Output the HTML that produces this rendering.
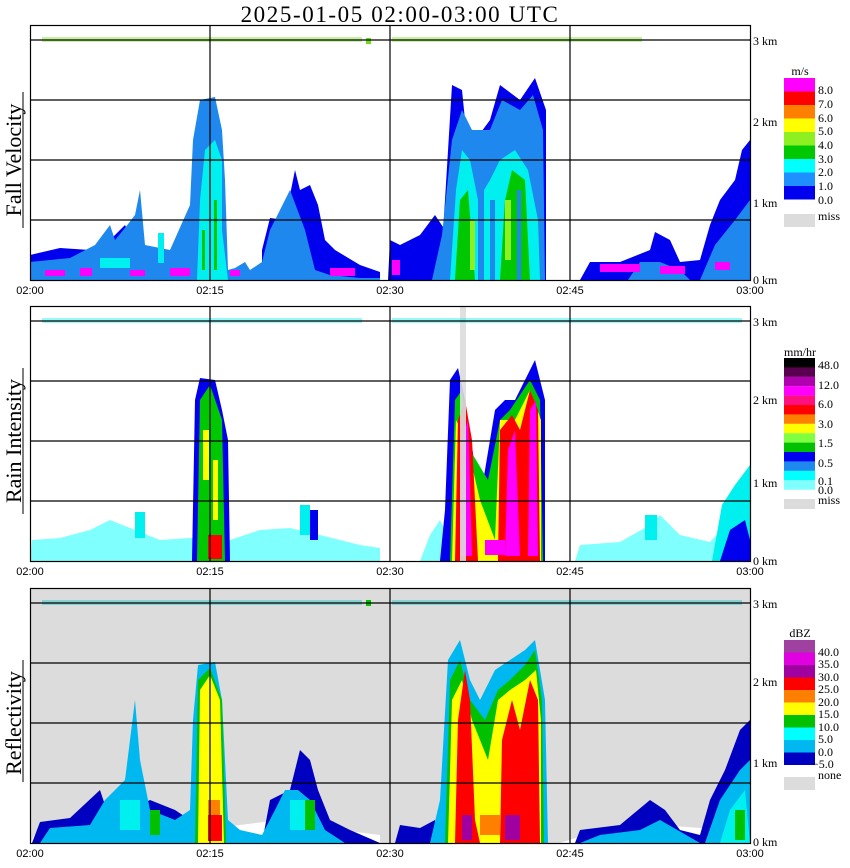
<!DOCTYPE html>
<html><head><meta charset="utf-8"><style>
body{margin:0;background:#fff}
svg{display:block}
text{font-family:"Liberation Serif",serif;fill:#000}
.t{font-family:"Liberation Sans",sans-serif;font-size:11px}
.k{font-size:12px}
.lg{font-size:12px}
</style></head><body>
<svg width="850" height="868" viewBox="0 0 850 868" xmlns="http://www.w3.org/2000/svg">
<text x="400" y="22" font-size="23" text-anchor="middle" letter-spacing="1.6">2025-01-05  02:00-03:00 UTC</text>

<!-- Panel 1 Fall velocity -->
<g>
<rect x="30" y="25" width="720" height="255" fill="#fff"/>
<g fill="#0000ee">
<polygon points="30,255 60,248 90,250 110,240 125,225 140,255 170,258 185,250 200,255 200,280 30,280"/>
<polygon points="262,250 270,218 285,220 295,170 300,190 310,185 318,205 325,240 335,250 360,265 380,272 380,280 262,280"/>
<polygon points="388,280 390,240 400,245 420,235 435,215 445,230 445,280"/>
<polygon points="580,280 590,262 620,262 650,250 655,232 670,240 680,262 700,260 710,225 720,200 735,180 742,150 750,140 750,280"/>
<polygon points="440,280 445,200 452,85 462,90 468,150 490,120 500,85 520,100 535,78 546,110 546,280"/>
</g>
<g fill="#1e88ee">
<polygon points="30,262 70,258 95,245 110,225 115,240 125,228 135,215 140,190 145,245 170,250 190,205 193,140 200,100 215,97 222,130 225,180 228,270 235,268 245,262 250,270 262,262 270,230 290,190 305,230 315,270 330,275 360,278 380,278 380,280 30,280"/>
<polygon points="432,280 442,235 452,140 462,110 472,130 490,130 502,100 520,110 533,95 543,130 545,280"/>
<polygon points="700,280 715,245 735,220 750,200 750,280"/>
<polygon points="628,280 640,262 660,262 680,270 690,280"/>
</g>
<g fill="#00f0f0">
<polygon points="197,280 200,200 205,150 215,140 222,160 222,230 228,280"/>
<polygon points="450,280 456,190 462,150 470,160 478,200 490,180 500,160 515,150 528,170 538,220 540,280"/>
<rect x="100" y="258" width="30" height="10"/>
<rect x="158" y="233" width="6" height="30"/>
</g>
<g fill="#00c800">
<polygon points="455,280 460,200 468,190 475,280"/>
<polygon points="500,280 505,200 512,170 525,180 530,280"/>
<rect x="214" y="200" width="3" height="70"/>
<rect x="202" y="230" width="3" height="40"/>
</g>
<g fill="#1e88ee"><rect x="478" y="180" width="6" height="100"/><rect x="490" y="200" width="5" height="80"/><rect x="517" y="190" width="4" height="90"/></g>
<g fill="#8ef020">
<rect x="505" y="200" width="6" height="60"/><rect x="470" y="220" width="5" height="50"/>
</g>
<g fill="#ff00ff">
<rect x="45" y="270" width="20" height="6"/><rect x="80" y="268" width="12" height="8"/><rect x="130" y="270" width="15" height="6"/><rect x="170" y="268" width="20" height="8"/><rect x="230" y="270" width="10" height="6"/><rect x="330" y="268" width="25" height="8"/><rect x="392" y="260" width="8" height="15"/><rect x="600" y="264" width="40" height="8"/><rect x="660" y="266" width="25" height="8"/><rect x="715" y="262" width="15" height="8"/>
</g>
<g fill="#6ede10"><rect x="42" y="37" width="320" height="5" opacity="0.4"/><rect x="392" y="37" width="250" height="5" opacity="0.4"/><rect x="366" y="38" width="5" height="6"/></g>
<g stroke="#000" stroke-width="1.2" fill="none">
<line x1="30" y1="40" x2="750" y2="40"/><line x1="30" y1="100" x2="750" y2="100"/><line x1="30" y1="160" x2="750" y2="160"/><line x1="30" y1="220" x2="750" y2="220"/>
<line x1="210" y1="25" x2="210" y2="280"/><line x1="390" y1="25" x2="390" y2="280"/><line x1="570" y1="25" x2="570" y2="280"/>
<rect x="30.5" y="25.5" width="720" height="255"/>
</g>
<text x="14" y="160" font-size="22" transform="rotate(-90 14 160)" text-anchor="middle" dy="7">Fall Velocity</text>
<line x1="23" y1="92" x2="23" y2="228" stroke="#000"/>
<text class="k" x="753" y="45">3 km</text><text class="k" x="753" y="126">2 km</text><text class="k" x="753" y="207">1 km</text><text class="k" x="753" y="284">0 km</text>
<text class="t" x="30" y="294" text-anchor="middle">02:00</text><text class="t" x="210" y="294" text-anchor="middle">02:15</text><text class="t" x="390" y="294" text-anchor="middle">02:30</text><text class="t" x="570" y="294" text-anchor="middle">02:45</text><text class="t" x="750" y="294" text-anchor="middle">03:00</text>
<text class="lg" x="800" y="75" text-anchor="middle">m/s</text>
<rect x="784" y="78" width="31" height="13.5" fill="#ff00ff"/><rect x="784" y="91.5" width="31" height="13.5" fill="#ff0000"/><rect x="784" y="105" width="31" height="13.5" fill="#ff8000"/><rect x="784" y="118.5" width="31" height="13.5" fill="#ffff00"/><rect x="784" y="132" width="31" height="13.5" fill="#8ef020"/><rect x="784" y="145.5" width="31" height="13.5" fill="#00c800"/><rect x="784" y="159" width="31" height="13.5" fill="#00ffff"/><rect x="784" y="172.5" width="31" height="13.5" fill="#1e90ff"/><rect x="784" y="186" width="31" height="13.5" fill="#0000ee"/>
<rect x="784" y="214" width="31" height="13" fill="#dcdcdc"/>
<text class="lg" x="818" y="94">8.0</text><text class="lg" x="818" y="108">7.0</text><text class="lg" x="818" y="122">6.0</text><text class="lg" x="818" y="135">5.0</text><text class="lg" x="818" y="149">4.0</text><text class="lg" x="818" y="163">3.0</text><text class="lg" x="818" y="176">2.0</text><text class="lg" x="818" y="190">1.0</text><text class="lg" x="818" y="204">0.0</text><text class="lg" x="818" y="220">miss</text>
</g>

<!-- Panel 2 Rain intensity -->
<g>
<g fill="#80ffff">
<polygon points="30,561 32,540 60,538 90,530 110,520 130,528 160,540 190,538 230,540 260,530 290,528 320,535 360,545 380,548 380,561"/>
<polygon points="420,561 430,535 440,520 460,561"/>
<polygon points="575,561 580,545 620,542 650,525 660,515 680,535 710,542 730,520 750,500 750,561"/>
</g>
<g fill="#00f0f0">
<rect x="135" y="512" width="10" height="26"/><rect x="300" y="505" width="10" height="30"/><rect x="645" y="515" width="12" height="25"/>
<polygon points="440,561 450,520 455,561"/>
<polygon points="712,561 722,505 735,485 750,465 750,561"/>
</g>
<g fill="#0000ee">
<polygon points="192,561 195,400 200,378 215,380 222,410 228,440 230,561"/>
<polygon points="440,561 445,510 450,380 458,368 465,400 480,500 495,410 505,400 515,400 525,380 535,360 545,400 545,561"/>
<polygon points="720,561 730,530 745,520 750,540 750,561"/>
<rect x="310" y="510" width="8" height="30"/>
</g>
<g fill="#00c800">
<polygon points="197,561 200,400 210,385 222,420 225,561"/>
<polygon points="450,561 455,400 462,390 470,450 488,480 500,420 510,410 530,380 540,400 543,561"/>
</g>
<g fill="#ffff00">
<rect x="203" y="430" width="6" height="50"/><rect x="213" y="460" width="5" height="60"/>
<polygon points="452,561 456,420 466,440 480,500 495,540 500,420 515,420 530,390 541,420 541,561"/>
</g>
<g fill="#ff0000">
<polygon points="455,561 458,420 465,400 472,440 478,561"/>
<polygon points="498,561 500,430 512,415 520,430 530,390 538,410 540,561"/>
<rect x="208" y="535" width="14" height="24"/>
</g>
<g fill="#ff00ff">
<polygon points="460,556 462,440 468,420 472,556"/>
<polygon points="505,556 508,450 515,430 520,556"/>
<polygon points="528,556 530,410 536,400 538,556"/>
<rect x="485" y="540" width="20" height="15"/>
</g>
<rect x="460" y="306" width="6" height="255" fill="#dcdcdc" opacity="0.9"/>
<g fill="#00f0f0"><rect x="42" y="318" width="320" height="5" opacity="0.4"/><rect x="392" y="318" width="350" height="5" opacity="0.4"/></g>
<g stroke="#000" stroke-width="1.2" fill="none">
<line x1="30" y1="321" x2="750" y2="321"/><line x1="30" y1="381" x2="750" y2="381"/><line x1="30" y1="441" x2="750" y2="441"/><line x1="30" y1="501" x2="750" y2="501"/>
<line x1="210" y1="306" x2="210" y2="561"/><line x1="390" y1="306" x2="390" y2="561"/><line x1="570" y1="306" x2="570" y2="561"/>
<rect x="30.5" y="306.5" width="720" height="255"/>
</g>
<text x="14" y="441" font-size="22" transform="rotate(-90 14 441)" text-anchor="middle" dy="7">Rain Intensity</text>
<line x1="23" y1="368" x2="23" y2="514" stroke="#000"/>
<text class="k" x="753" y="326">3 km</text><text class="k" x="753" y="404">2 km</text><text class="k" x="753" y="487">1 km</text><text class="k" x="753" y="565">0 km</text>
<text class="t" x="30" y="575" text-anchor="middle">02:00</text><text class="t" x="210" y="575" text-anchor="middle">02:15</text><text class="t" x="390" y="575" text-anchor="middle">02:30</text><text class="t" x="570" y="575" text-anchor="middle">02:45</text><text class="t" x="750" y="575" text-anchor="middle">03:00</text>
<text class="lg" x="800" y="356" text-anchor="middle" font-size="10">mm/hr</text>
<rect x="784" y="358" width="31" height="9.5" fill="#000"/><rect x="784" y="367.4" width="31" height="9.5" fill="#5a0050"/><rect x="784" y="376.8" width="31" height="9.5" fill="#b000b0"/><rect x="784" y="386.2" width="31" height="9.5" fill="#ff00ff"/><rect x="784" y="395.6" width="31" height="9.5" fill="#ff1080"/><rect x="784" y="405" width="31" height="9.5" fill="#ff0000"/><rect x="784" y="414.4" width="31" height="9.5" fill="#ff8000"/><rect x="784" y="423.8" width="31" height="9.5" fill="#ffff00"/><rect x="784" y="433.2" width="31" height="9.5" fill="#80ff40"/><rect x="784" y="442.6" width="31" height="9.5" fill="#00c000"/><rect x="784" y="452" width="31" height="9.5" fill="#0000f0"/><rect x="784" y="461.4" width="31" height="9.5" fill="#1e88ee"/><rect x="784" y="470.8" width="31" height="9.5" fill="#00ffff"/><rect x="784" y="480.2" width="31" height="9.5" fill="#80ffff"/>
<rect x="784" y="499" width="31" height="10" fill="#dcdcdc"/>
<text class="lg" x="818" y="369">48.0</text><text class="lg" x="818" y="389">12.0</text><text class="lg" x="818" y="408">6.0</text><text class="lg" x="818" y="428">3.0</text><text class="lg" x="818" y="447">1.5</text><text class="lg" x="818" y="467">0.5</text><text class="lg" x="818" y="485">0.1</text><text class="lg" x="818" y="494">0.0</text><text class="lg" x="818" y="504">miss</text>
</g>

<!-- Panel 3 Reflectivity -->
<g>
<rect x="30" y="588" width="720" height="255" fill="#dcdcdc"/>
<g fill="#fff">
<polygon points="30,843 40,825 80,820 120,815 160,825 200,830 240,825 280,820 340,830 380,835 380,843"/>
<polygon points="560,843 600,830 660,825 700,828 750,830 750,843"/>
</g>
<g fill="#0000c0">
<polygon points="32,843 40,822 70,818 100,790 110,820 150,800 175,810 190,820 190,843"/>
<polygon points="262,843 270,800 290,790 300,750 310,760 318,790 330,820 350,830 380,843"/>
<polygon points="395,843 400,825 420,828 435,820 440,843"/>
<polygon points="575,843 580,830 620,825 650,800 665,810 680,830 700,835 710,800 725,770 740,730 750,720 750,843"/>
</g>
<g fill="#00b8f0">
<polygon points="40,843 50,828 90,825 105,800 125,780 135,700 140,760 150,810 175,820 190,810 193,720 198,665 215,662 222,700 228,820 240,830 262,835 275,810 285,790 298,790 310,800 325,830 345,843"/>
<polygon points="430,843 440,800 448,660 460,640 470,680 480,700 495,670 510,660 525,650 535,640 545,700 548,843"/>
<polygon points="580,843 600,835 640,830 660,820 700,843"/>
<polygon points="705,843 720,800 740,770 750,760 750,843"/>
</g>
<g fill="#00f0f0">
<rect x="120" y="800" width="20" height="30"/><rect x="290" y="800" width="15" height="30"/>
<polygon points="720,843 730,810 745,790 750,843"/>
</g>
<g fill="#00c000">
<polygon points="195,843 198,680 210,668 222,700 226,843"/>
<polygon points="445,843 450,680 460,660 470,700 485,720 498,690 510,680 525,665 535,650 542,700 544,843"/>
<rect x="150" y="810" width="10" height="25"/><rect x="305" y="800" width="10" height="30"/><rect x="735" y="810" width="10" height="30"/>
</g>
<g fill="#ffff00">
<polygon points="198,843 200,690 210,675 220,700 224,843"/>
<polygon points="448,843 452,700 462,680 472,720 488,760 498,700 510,690 525,680 536,670 541,720 541,843"/>
</g>
<g fill="#ff0000">
<polygon points="455,843 458,720 465,670 470,700 475,820 480,843"/>
<polygon points="500,843 502,740 512,700 520,730 530,680 538,700 540,843"/>
<rect x="208" y="815" width="14" height="26"/>
</g>
<g fill="#ff8000"><rect x="208" y="800" width="12" height="15"/><rect x="480" y="815" width="20" height="20"/></g>
<g fill="#a000a0"><rect x="462" y="815" width="10" height="25"/><rect x="505" y="815" width="15" height="25"/></g>
<g fill="#00c0c0"><rect x="42" y="600" width="320" height="5" opacity="0.4"/><rect x="392" y="600" width="350" height="5" opacity="0.4"/><rect x="366" y="600" width="5" height="6" fill="#00c000"/></g>
<g stroke="#000" stroke-width="1.2" fill="none">
<line x1="30" y1="603" x2="750" y2="603"/><line x1="30" y1="663" x2="750" y2="663"/><line x1="30" y1="723" x2="750" y2="723"/><line x1="30" y1="783" x2="750" y2="783"/>
<line x1="210" y1="588" x2="210" y2="843"/><line x1="390" y1="588" x2="390" y2="843"/><line x1="570" y1="588" x2="570" y2="843"/>
<rect x="30.5" y="588.5" width="720" height="255"/>
</g>
<text x="14" y="723" font-size="22" transform="rotate(-90 14 723)" text-anchor="middle" dy="7">Reflectivity</text>
<line x1="23" y1="660" x2="23" y2="782" stroke="#000"/>
<text class="k" x="753" y="608">3 km</text><text class="k" x="753" y="686">2 km</text><text class="k" x="753" y="767">1 km</text><text class="k" x="753" y="846">0 km</text>
<text class="t" x="30" y="857" text-anchor="middle">02:00</text><text class="t" x="210" y="857" text-anchor="middle">02:15</text><text class="t" x="390" y="857" text-anchor="middle">02:30</text><text class="t" x="570" y="857" text-anchor="middle">02:45</text><text class="t" x="750" y="857" text-anchor="middle">03:00</text>
<text class="lg" x="800" y="637" text-anchor="middle">dBZ</text>
<rect x="784" y="640" width="31" height="12.5" fill="#a040a0"/><rect x="784" y="652.5" width="31" height="12.5" fill="#e000e0"/><rect x="784" y="665" width="31" height="12.5" fill="#a000a0"/><rect x="784" y="677.5" width="31" height="12.5" fill="#ff0000"/><rect x="784" y="690" width="31" height="12.5" fill="#ff8000"/><rect x="784" y="702.5" width="31" height="12.5" fill="#ffff00"/><rect x="784" y="715" width="31" height="12.5" fill="#00c000"/><rect x="784" y="727.5" width="31" height="12.5" fill="#00ffff"/><rect x="784" y="740" width="31" height="12.5" fill="#00b8f0"/><rect x="784" y="752.5" width="31" height="12.5" fill="#0000c0"/>
<rect x="784" y="777" width="31" height="13" fill="#dcdcdc"/>
<text class="lg" x="818" y="656">40.0</text><text class="lg" x="818" y="668">35.0</text><text class="lg" x="818" y="681">30.0</text><text class="lg" x="818" y="693">25.0</text><text class="lg" x="818" y="706">20.0</text><text class="lg" x="818" y="718">15.0</text><text class="lg" x="818" y="731">10.0</text><text class="lg" x="818" y="743">5.0</text><text class="lg" x="818" y="756">0.0</text><text class="lg" x="812" y="768">−5.0</text><text class="lg" x="818" y="779">none</text>
</g>
</svg>
</body></html>
